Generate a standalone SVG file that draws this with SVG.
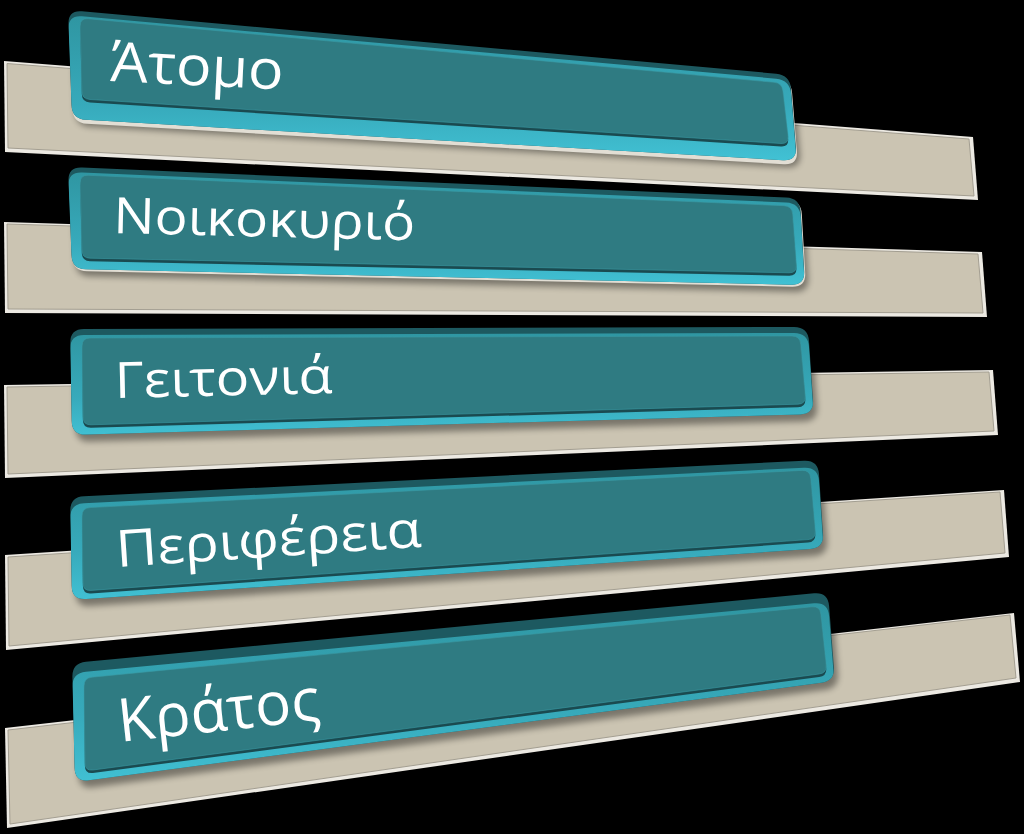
<svg xmlns="http://www.w3.org/2000/svg" xmlns:xlink="http://www.w3.org/1999/xlink" width="1024" height="834" viewBox="0 0 1024 834">
<style>
.bg{fill:#000}
.bar-edge{fill:#ece9e2}
.bar{fill:#cbc4b2;stroke:#a39e91;stroke-width:1}
.dark{fill:#1d5960}
.rim{fill:url(#rimGrad)}
.under{fill:#1a4a50}
.face{fill:#2f7b82;stroke:#3a9aa4;stroke-width:1;stroke-opacity:0.6}
.lip{fill:#e2ded4}
.shadow{fill:#000;opacity:0.4}
.lbl{font-family:"Open Sans","Noto Sans","DejaVu Sans",sans-serif;fill:#ffffff}
</style>
<defs>
<linearGradient id="rimGrad" x1="0" y1="0" x2="0" y2="1">
<stop offset="0" stop-color="#2f96a2"/>
<stop offset="0.6" stop-color="#37aabb"/>
<stop offset="1" stop-color="#42c3d6"/>
</linearGradient>
<filter id="blur" x="-5%" y="-20%" width="110%" height="140%"><feGaussianBlur stdDeviation="3"/></filter>
<path id="o1" d="M 81.9,11.3 L 776.1,73.7 Q 790,75 791.1,89 L 795.9,147 Q 797,161 783,160.2 L 86,119.8 Q 72,119 71.5,105 L 68.5,24 Q 68,10 81.9,11.3 Z"/>
<path id="f1" d="M 88,18.7 L 774,82.3 Q 782,83 782.9,90.9 L 788.1,136.1 Q 789,144 781,143.5 L 90,99.5 Q 82,99 81.8,91 L 80.2,26 Q 80,18 88,18.7 Z"/>
<path id="o2" d="M 82,167.6 L 786,197.4 Q 800,198 800.8,212 L 804.2,271 Q 805,285 791,284.7 L 86,269.3 Q 72,269 71.5,255 L 68.5,181 Q 68,167 82,167.6 Z"/>
<path id="f2" d="M 88,175.3 L 784,205.7 Q 792,206 792.6,214 L 796.4,265 Q 797,273 789,272.8 L 90,258.2 Q 82,258 81.8,250 L 80.2,183 Q 80,175 88,175.3 Z"/>
<path id="o3" d="M 84,329 L 794,327 Q 808,327 809,341 L 813,400 Q 814,414 800,414.4 L 86,434.6 Q 72,435 71.7,421 L 70.3,343 Q 70,329 84,329 Z"/>
<path id="f3" d="M 90,338 L 792,336 Q 800,336 800.7,344 L 805.3,396 Q 806,404 798,404.2 L 91,424.8 Q 83,425 82.9,417 L 82.1,346 Q 82,338 90,338 Z"/>
<path id="o4" d="M 84,496.3 L 804,460.7 Q 818,460 819,474 L 823,534 Q 824,548 810,549 L 86,599 Q 72,600 71.7,586 L 70.3,511 Q 70,497 84,496.3 Z"/>
<path id="f4" d="M 90,507.6 L 802,470.4 Q 810,470 810.7,478 L 815.3,531 Q 816,539 808,539.6 L 91,590.4 Q 83,591 82.9,583 L 82.1,516 Q 82,508 90,507.6 Z"/>
<path id="o5" d="M 85.9,661.7 L 814.1,593.3 Q 828,592 829.1,606 L 833.9,667 Q 835,681 821.1,682.8 L 88.9,780.2 Q 75,782 74.6,768 L 72.4,677 Q 72,663 85.9,661.7 Z"/>
<path id="f5" d="M 92,677.2 L 812,606.8 Q 820,606 820.8,614 L 826.2,665 Q 827,673 819.1,674 L 92.9,770 Q 85,771 84.9,763 L 84.1,686 Q 84,678 92,677.2 Z"/>
<clipPath id="c1"><use xlink:href="#o1"/></clipPath>
<clipPath id="c2"><use xlink:href="#o2"/></clipPath>
<clipPath id="c3"><use xlink:href="#o3"/></clipPath>
<clipPath id="c4"><use xlink:href="#o4"/></clipPath>
<clipPath id="c5"><use xlink:href="#o5"/></clipPath>
</defs>
<rect class="bg" x="0" y="0" width="1024" height="834"/>

<g id="node-1">
<polygon class="bar-edge" points="4,61 973,137 978,200 5,152"/>
<polygon class="bar" points="7,63.5 969,139 974,196 8,148"/>
<use xlink:href="#o1" class="shadow" transform="translate(4,7)" filter="url(#blur)"/>
<use xlink:href="#o1" class="lip" transform="translate(1,4)"/>
<use xlink:href="#o1" class="dark"/>
<g clip-path="url(#c1)"><use xlink:href="#o1" class="rim" transform="translate(0,5)"/></g>
<use xlink:href="#f1" class="under" transform="translate(0,3)"/>
<use xlink:href="#f1" class="face"/>
<text class="lbl" font-size="55" textLength="173" lengthAdjust="spacingAndGlyphs" transform="translate(110,81) rotate(2.8)">Άτομο</text>
</g>

<g id="node-2">
<polygon class="bar-edge" points="4,222 982,252 987,317 5,313"/>
<polygon class="bar" points="7,224 978,254 983,313 8,309"/>
<use xlink:href="#o2" class="shadow" transform="translate(4,7)" filter="url(#blur)"/>
<use xlink:href="#o2" class="lip" transform="translate(1,2)"/>
<use xlink:href="#o2" class="dark"/>
<g clip-path="url(#c2)"><use xlink:href="#o2" class="rim" transform="translate(0,5)"/></g>
<use xlink:href="#f2" class="under" transform="translate(0,3)"/>
<use xlink:href="#f2" class="face"/>
<text class="lbl" font-size="50" textLength="302" lengthAdjust="spacingAndGlyphs" transform="translate(113,233) rotate(1.4)">Νοικοκυριό</text>
</g>

<g id="node-3">
<polygon class="bar-edge" points="4,385 993,370 998,435 5,478"/>
<polygon class="bar" points="7,387 989,372 994,431 8,474"/>
<use xlink:href="#o3" class="shadow" transform="translate(4,7)" filter="url(#blur)"/>
<use xlink:href="#o3" class="dark"/>
<g clip-path="url(#c3)"><use xlink:href="#o3" class="rim" transform="translate(0,6)"/></g>
<use xlink:href="#f3" class="under" transform="translate(0,3)"/>
<use xlink:href="#f3" class="face"/>
<text class="lbl" font-size="50" textLength="218" lengthAdjust="spacingAndGlyphs" transform="translate(115,398) rotate(-1.3)">Γειτονιά</text>
</g>

<g id="node-4">
<polygon class="bar-edge" points="5,555 1004,490 1009,557 6,650"/>
<polygon class="bar" points="8,557 1000,492 1005,553 9,646"/>
<use xlink:href="#o4" class="shadow" transform="translate(4,7)" filter="url(#blur)"/>
<use xlink:href="#o4" class="dark"/>
<g clip-path="url(#c4)"><use xlink:href="#o4" class="rim" transform="translate(0,7)"/></g>
<use xlink:href="#f4" class="under" transform="translate(0,3)"/>
<use xlink:href="#f4" class="face"/>
<text class="lbl" font-size="51" textLength="306" lengthAdjust="spacingAndGlyphs" transform="translate(117,567) rotate(-3.8)">Περιφέρεια</text>
</g>

<g id="node-5">
<polygon class="bar-edge" points="5,728 1014,613 1020,682 7,828"/>
<polygon class="bar" points="8,730 1010,615 1016,678 10,824"/>
<use xlink:href="#o5" class="shadow" transform="translate(4,7)" filter="url(#blur)"/>
<use xlink:href="#o5" class="dark"/>
<g clip-path="url(#c5)"><use xlink:href="#o5" class="rim" transform="translate(0,10)"/></g>
<use xlink:href="#f5" class="under" transform="translate(0,3)"/>
<use xlink:href="#f5" class="face"/>
<text class="lbl" font-size="60" textLength="203" lengthAdjust="spacingAndGlyphs" transform="translate(120,742) rotate(-6.3)">Κράτος</text>
</g>

<g id="connectors"/>
</svg>
